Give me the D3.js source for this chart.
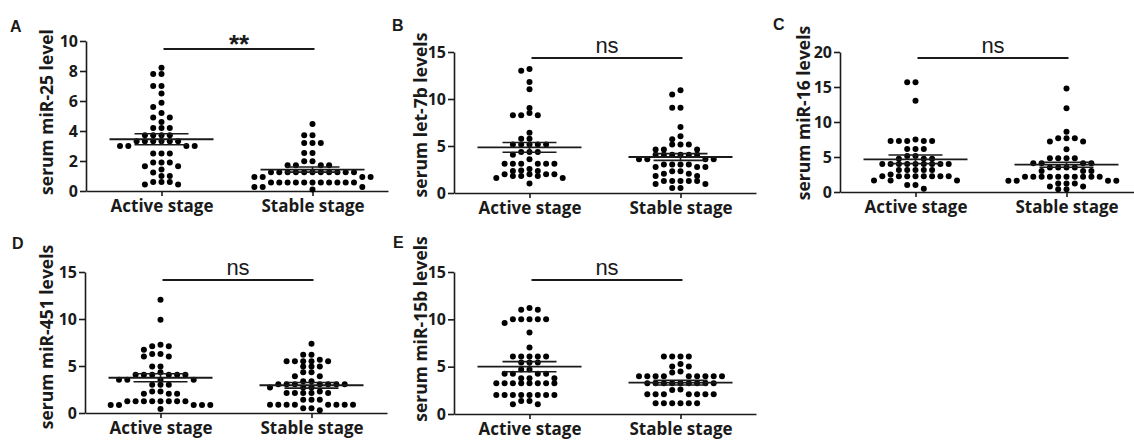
<!DOCTYPE html>
<html>
<head>
<meta charset="utf-8">
<script src="https://cdn.jsdelivr.net/npm/d3@7"></script>
<style>
  body { margin: 0; background: #fff; }
  svg { display: block; }
</style>
</head>
<body>
<div id="chart"></div>
<script>
// ---- data ----
const categories = ['Active stage', 'Stable stage'];
const panelLetters = ['A', 'B', 'C', 'D', 'E'];
const yLabels = ['serum miR-25 level', 'serum let-7b levels', 'serum miR-16 levels',
  'serum miR-451 levels', 'serum miR-15b levels'];
const yMax = [10, 15, 20, 15, 15];
const yTicks = [[0, 2, 4, 6, 8, 10], [0, 5, 10, 15], [0, 5, 10, 15, 20], [0, 5, 10, 15], [0, 5, 10, 15]];
const sigLabels = ['**', 'ns', 'ns', 'ns', 'ns'];

const activeA = [8.22, 7.8, 7.8, 7.0, 7.0, 6.5, 5.88, 5.6, 5.2, 4.9, 4.9, 4.6, 4.2, 4.2, 4.2,
  3.72, 3.72, 3.72, 3.72, 3.32, 3.32, 3.32, 3.32, 3.32, 3.32, 3.0, 3.0, 3.0, 3.0,
  2.5, 2.5, 2.5, 1.9, 1.9, 1.9, 1.65, 1.65, 1.43, 1.23, 1.0, 1.0, 0.6, 0.6, 0.6, 0.43, 0.43];
const stableA = [4.46, 3.72, 3.72, 3.2, 3.2, 3.2, 2.54, 2.54, 1.98, 1.98, 1.72, 1.72, 1.72, 1.72,
  1.25, 1.25, 1.25, 1.25, 1.25, 1.25, 1.25, 1.25, 1.25, 1.25, 1.25,
  0.94, 0.94, 0.94, 0.94,
  0.56, 0.56, 0.56, 0.56, 0.56, 0.56, 0.56, 0.56, 0.56, 0.56, 0.56, 0.27, 0.27, 0.27, 0.1];

const activeB = [13.2, 13.0, 11.8, 11.03, 9.05, 8.5, 8.27, 8.27, 8.27, 6.42, 5.78, 5.78,
  5.15, 5.15, 5.15, 5.15, 5.15, 4.36, 4.36, 4.36, 4.08, 3.58,
  3.12, 3.12, 3.12, 3.12, 3.12, 3.12, 2.55, 2.4, 2.35, 2.35,
  2.0, 2.0, 2.0, 2.0, 1.8, 1.8, 1.8, 1.6, 1.6, 1.0];
const stableB = [10.93, 10.47, 9.08, 9.08, 7.02, 6.03, 5.71, 5.15, 5.15, 5.15, 4.62, 4.62, 4.62,
  4.08, 4.08, 4.08, 4.08, 4.08, 4.08, 3.6, 3.6, 3.6, 3.6, 3.02, 3.02, 3.02, 3.02,
  2.77, 2.77, 2.77, 2.31, 2.31, 2.06, 2.06, 1.81, 1.81,
  1.27, 1.27, 1.27, 1.27, 1.27, 0.95, 0.95, 0.53, 0.53];

const activeC = [15.67, 15.67, 13.05, 7.5, 7.29, 7.29, 7.29, 7.29, 7.29, 6.14, 6.14, 6.14,
  5.14, 5.14, 4.75, 4.75, 4.75,
  4.0, 4.0, 4.0, 4.0, 4.0, 4.0, 4.0, 4.0, 4.0, 3.14, 3.14, 3.14, 3.14, 3.14, 2.5,
  2.25, 2.25, 2.25, 2.25, 2.25, 2.25, 2.25, 2.25, 1.65, 1.65, 1.65, 1.0, 1.0, 0.45];
const stableC = [14.8, 11.95, 8.62, 7.67, 7.67, 7.67, 7.2, 7.2, 6.1, 4.81, 4.81, 4.81, 4.81,
  4.1, 4.1, 4.1, 4.1, 3.5, 3.5, 3.5, 3.5, 3.0, 3.0, 3.0,
  2.19, 2.19, 2.19, 2.19, 2.19, 2.19, 2.19, 2.19, 2.19, 2.19,
  1.6, 1.6, 1.6, 1.6, 1.2, 1.2, 1.2, 0.8, 0.8, 0.4, 0.4];

const activeD = [12.06, 9.93, 7.27, 7.09, 7.09, 6.74, 6.28, 6.28, 6.0, 6.0, 4.96, 4.96, 4.33,
  4.08, 4.08, 4.08, 4.08, 4.08, 4.08, 3.55, 3.55, 3.55, 3.55, 3.01, 3.01, 3.01,
  2.3, 2.3, 2.05, 2.05, 2.05,
  1.24, 1.24, 1.24, 1.24, 1.24, 1.24, 1.24, 1.24, 0.85, 0.85, 0.85, 0.85, 0.85, 0.43];
const stableD = [7.38, 6.2, 6.2, 5.67, 5.5, 5.5, 5.5, 5.5, 5.5, 4.96, 4.96, 4.96, 4.33, 4.33,
  3.9, 3.9, 3.37, 3.37, 3.05, 3.05, 3.05, 3.05, 3.05, 3.05, 3.05, 2.7, 2.7, 2.7,
  2.3, 2.13, 2.13, 2.13, 2.13, 2.13, 1.42, 1.42, 1.42,
  0.89, 0.89, 0.89, 0.89, 0.89, 0.89, 0.89, 0.89, 0.5, 0.5, 0.28];

const activeE = [11.19, 11.0, 11.0, 10.02, 10.02, 10.02, 10.02, 10.02, 9.6, 8.61, 7.02,
  6.07, 6.07, 6.07, 6.07, 6.07, 5.44, 5.44, 5.44, 4.7, 4.7, 4.24, 4.24, 4.24, 4.24,
  3.78, 3.78, 3.78, 3.25, 3.25, 3.25, 3.25, 3.25, 3.25, 3.25, 3.25,
  2.01, 2.01, 2.01, 2.01, 2.01, 2.01, 2.01, 2.01, 1.38, 1.38, 1.02, 1.02];
const stableE = [6.07, 6.07, 6.07, 6.07, 5.29, 5.01, 5.01, 4.48, 4.38,
  4.0, 4.0, 4.0, 4.0, 4.0, 4.0, 4.0, 4.0, 4.0,
  3.25, 3.25, 3.25, 3.25, 3.25, 3.25, 3.25, 3.25, 3.25,
  2.6, 2.54, 2.08, 2.08, 2.08, 2.08, 2.08, 2.08, 2.08,
  1.13, 1.13, 1.13, 1.13, 1.13, 1.13];

const meanActive = [3.45, 4.85, 4.67, 3.75, 5.0];
const semActive = [0.37, 0.52, 0.62, 0.43, 0.53];
const meanStable = [1.43, 3.83, 3.9, 2.95, 3.32];
const semStable = [0.17, 0.36, 0.36, 0.3, 0.25];

const seriesActive = [activeA, activeB, activeC, activeD, activeE];
const seriesStable = [stableA, stableB, stableC, stableD, stableE];

// ---- layout ----
const W = 1134, H = 441;
const CFG = {
  axisLen: 302,
  dotR: 3,
  colStep: 8.3,
  rowGap: 5,
  meanHalf: 52,
  semHalf: 27,
  ink: '#1a1a1a',
  textFont: '"Open Sans", Lato, sans-serif',
  sigFont: '"Liberation Sans", Arial, sans-serif',
};
const PANELS = [
  { x0: 86, yBot: 191, yTop: 41, sigY: 49, labelX: 53, labelY: 112, letterX: 10, letterY: 32 },
  { x0: 454, yBot: 193, yTop: 52, sigY: 58, labelX: 427, labelY: 115, letterX: 392, letterY: 31 },
  { x0: 840, yBot: 192, yTop: 52, sigY: 58, labelX: 810, labelY: 113, letterX: 773, letterY: 30 },
  { x0: 85, yBot: 413, yTop: 272, sigY: 280, labelX: 53, labelY: 337, letterX: 12, letterY: 249 },
  { x0: 454, yBot: 414, yTop: 272, sigY: 280, labelX: 427, labelY: 329, letterX: 393, letterY: 248 },
];

const svg = d3.select('#chart').append('svg')
  .attr('width', W).attr('height', H)
  .attr('viewBox', `0 0 ${W} ${H}`);

svg.append('rect').attr('width', W).attr('height', H).attr('fill', '#fff');

// place dots Prism-style: fixed columns, nearest free column to the centre
function swarm(values, y) {
  const placed = [];
  const sorted = values.slice().sort((a, b) => b - a);
  sorted.forEach(v => {
    const py = y(v);
    for (let i = 0; i < 40; i++) {
      const k = i === 0 ? 0 : (i % 2 ? -Math.ceil(i / 2) : Math.ceil(i / 2));
      const hit = placed.some(p => p.k === k && Math.abs(p.y - py) < CFG.rowGap);
      if (!hit) { placed.push({ k, y: py }); break; }
    }
  });
  return placed;
}

PANELS.forEach((P, i) => {
  const g = svg.append('g');

  const x = d3.scalePoint().domain(categories)
    .range([P.x0, P.x0 + CFG.axisLen]).padding(0.5);
  const y = d3.scaleLinear().domain([0, yMax[i]]).range([P.yBot, P.yTop]);

  // axes
  const yAxis = g.append('g').attr('transform', `translate(${P.x0},0)`)
    .call(d3.axisLeft(y).tickValues(yTicks[i]).tickSize(6).tickSizeOuter(0).tickPadding(2));
  const xAxis = g.append('g').attr('transform', `translate(0,${P.yBot})`)
    .call(d3.axisBottom(x).tickSize(5).tickSizeOuter(0));

  [yAxis, xAxis].forEach(ax => {
    ax.select('.domain').attr('stroke', CFG.ink).attr('stroke-width', 1.6);
    ax.selectAll('.tick line').attr('stroke', CFG.ink).attr('stroke-width', 1.6);
    ax.selectAll('.tick text')
      .attr('fill', CFG.ink)
      .attr('font-family', CFG.textFont)
      .attr('font-weight', 'bold');
  });
  yAxis.selectAll('.tick text').attr('font-size', 16);
  xAxis.selectAll('.tick text').attr('font-size', 17).attr('y', 21).attr('dy', 0);

  // y label
  g.append('text')
    .attr('transform', `translate(${P.labelX},${P.labelY}) rotate(-90)`)
    .attr('text-anchor', 'middle')
    .attr('font-family', CFG.textFont).attr('font-weight', 'bold')
    .attr('font-size', 17.5).attr('fill', CFG.ink)
    .text(yLabels[i]);

  // panel letter
  g.append('text')
    .attr('x', P.letterX).attr('y', P.letterY)
    .attr('font-family', CFG.sigFont).attr('font-weight', 'bold')
    .attr('font-size', 16).attr('fill', CFG.ink)
    .text(panelLetters[i]);

  // significance bar
  const xa = x(categories[0]) + 2, xb = x(categories[1]) + 2;
  g.append('line')
    .attr('x1', xa).attr('x2', xb).attr('y1', P.sigY).attr('y2', P.sigY)
    .attr('stroke', CFG.ink).attr('stroke-width', 2);
  const isStar = sigLabels[i] === '**';
  g.append('text')
    .attr('x', (xa + xb) / 2).attr('y', isStar ? P.sigY + 4 : P.sigY - 5)
    .attr('text-anchor', 'middle')
    .attr('font-family', CFG.sigFont)
    .attr('font-weight', isStar ? 'bold' : 'normal')
    .attr('font-size', isStar ? 26 : 22).attr('fill', CFG.ink)
    .text(sigLabels[i]);

  // dots + mean ± SEM
  const groups = [
    { cat: categories[0], vals: seriesActive[i], mean: meanActive[i], sem: semActive[i] },
    { cat: categories[1], vals: seriesStable[i], mean: meanStable[i], sem: semStable[i] },
  ];
  groups.forEach(grp => {
    const cx = x(grp.cat);
    g.append('g').selectAll('circle')
      .data(swarm(grp.vals, y))
      .join('circle')
      .attr('cx', d => cx + d.k * CFG.colStep)
      .attr('cy', d => d.y)
      .attr('r', CFG.dotR)
      .attr('fill', '#000');

    const ym = y(grp.mean), yHi = y(grp.mean + grp.sem), yLo = y(grp.mean - grp.sem);
    g.append('line')
      .attr('x1', cx - CFG.meanHalf).attr('x2', cx + CFG.meanHalf)
      .attr('y1', ym).attr('y2', ym)
      .attr('stroke', CFG.ink).attr('stroke-width', 1.8);
    [yHi, yLo].forEach(yy => {
      g.append('line')
        .attr('x1', cx - CFG.semHalf).attr('x2', cx + CFG.semHalf)
        .attr('y1', yy).attr('y2', yy)
        .attr('stroke', CFG.ink).attr('stroke-width', 1.6);
    });
    g.append('line')
      .attr('x1', cx).attr('x2', cx).attr('y1', yHi).attr('y2', yLo)
      .attr('stroke', CFG.ink).attr('stroke-width', 1.6);
  });
});
</script>
</body>
</html>
